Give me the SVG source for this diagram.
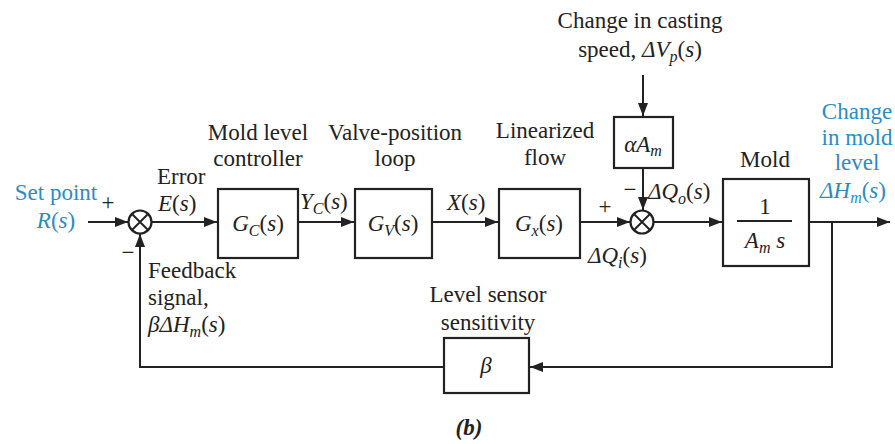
<svg xmlns="http://www.w3.org/2000/svg" width="895" height="444" viewBox="0 0 895 444">
<style>
text{font-family:"Liberation Serif","Times New Roman",serif;font-size:23px;fill:#222}
.b{fill:#2a8cc6}
.i{font-style:italic}
.c{text-anchor:middle}
.sub{font-size:16px}
.box{fill:#fff;stroke:#222;stroke-width:2.2}
.ln{fill:none;stroke:#222;stroke-width:2}
</style>
<defs>
<marker id="ar" markerUnits="userSpaceOnUse" markerWidth="14" markerHeight="12" refX="13" refY="6" orient="auto">
<path d="M0,1 L13,6 L0,11 Z" fill="#222"/>
</marker>
</defs>
<rect width="895" height="444" fill="#fff"/>
<g id="connectors">
<path class="ln" d="M88,222 H128" marker-end="url(#ar)"/>
<path class="ln" d="M151,222 H217" marker-end="url(#ar)"/>
<path class="ln" d="M298,222 H354" marker-end="url(#ar)"/>
<path class="ln" d="M432,222 H498" marker-end="url(#ar)"/>
<path class="ln" d="M580,222 H630" marker-end="url(#ar)"/>
<path class="ln" d="M643,75 V116" marker-end="url(#ar)"/>
<path class="ln" d="M643,168 V210" marker-end="url(#ar)"/>
<path class="ln" d="M653,222 H722" marker-end="url(#ar)"/>
<path class="ln" d="M809,222 H890" marker-end="url(#ar)"/>
<path class="ln" d="M832,222 V367 H530" marker-end="url(#ar)"/>
<path class="ln" d="M444,367 H140 V234" marker-end="url(#ar)"/>
</g>
<g id="sum1">
<circle cx="140" cy="222" r="11.5" fill="#fff" stroke="#222" stroke-width="2.2"/>
<path class="ln" d="M132,214 L148,230 M148,214 L132,230"/>
<text x="108" y="210" class="c">+</text>
<text x="128" y="260" class="c">−</text>
</g>
<g id="sum2">
<circle cx="642" cy="222" r="11.5" fill="#fff" stroke="#222" stroke-width="2.2"/>
<path class="ln" d="M634,214 L650,230 M650,214 L634,230"/>
<text x="605" y="214" class="c">+</text>
<text x="630" y="197" class="c">−</text>
</g>
<g id="input">
<text x="56" y="200" class="c b">Set point</text>
<text x="56" y="228" class="c b"><tspan class="i">R</tspan>(<tspan class="i">s</tspan>)</text>
</g>
<g id="error">
<text x="157" y="184">Error</text>
<text x="158" y="211"><tspan class="i">E</tspan>(<tspan class="i">s</tspan>)</text>
</g>
<g id="gc">
<text x="258" y="140" class="c">Mold level</text>
<text x="258" y="166" class="c">controller</text>
<rect class="box" x="218" y="189" width="80" height="69"/>
<text x="258" y="231" class="c"><tspan class="i">G</tspan><tspan class="i sub" dy="5">C</tspan><tspan dy="-5">(</tspan><tspan class="i">s</tspan>)</text>
</g>
<text x="300" y="209"><tspan class="i">Y</tspan><tspan class="i sub" dy="5">C</tspan><tspan dy="-5">(</tspan><tspan class="i">s</tspan>)</text>
<g id="gv">
<text x="395" y="140" class="c">Valve-position</text>
<text x="395" y="166" class="c">loop</text>
<rect class="box" x="355" y="189" width="77" height="69"/>
<text x="393" y="231" class="c"><tspan class="i">G</tspan><tspan class="i sub" dy="5">V</tspan><tspan dy="-5">(</tspan><tspan class="i">s</tspan>)</text>
</g>
<text x="447" y="210"><tspan class="i">X</tspan>(<tspan class="i">s</tspan>)</text>
<g id="gx">
<text x="545" y="138" class="c">Linearized</text>
<text x="545" y="165" class="c">flow</text>
<rect class="box" x="499" y="189" width="81" height="69"/>
<text x="539" y="231" class="c"><tspan class="i">G</tspan><tspan class="i sub" dy="5">x</tspan><tspan dy="-5">(</tspan><tspan class="i">s</tspan>)</text>
</g>
<text x="588" y="263"><tspan class="i">ΔQ</tspan><tspan class="i sub" dy="5">i</tspan><tspan dy="-5">(</tspan><tspan class="i">s</tspan>)</text>
<g id="disturbance">
<text x="640" y="28" class="c">Change in casting</text>
<text x="640" y="57" class="c">speed, <tspan class="i">ΔV</tspan><tspan class="i sub" dy="5">p</tspan><tspan dy="-5">(</tspan><tspan class="i">s</tspan>)</text>
</g>
<g id="aam">
<rect class="box" x="614" y="117" width="59" height="51"/>
<text x="643" y="152" class="c"><tspan class="i">αA</tspan><tspan class="i sub" dy="4">m</tspan></text>
</g>
<text x="648" y="199"><tspan class="i">ΔQ</tspan><tspan class="i sub" dy="5">o</tspan><tspan dy="-5">(</tspan><tspan class="i">s</tspan>)</text>
<g id="mold">
<text x="765" y="167" class="c">Mold</text>
<rect class="box" x="723" y="179" width="86" height="87"/>
<text x="765" y="214" class="c">1</text>
<line x1="737" y1="221" x2="792" y2="221" stroke="#222" stroke-width="2"/>
<text x="765" y="248" class="c"><tspan class="i">A</tspan><tspan class="i sub" dy="5">m</tspan><tspan dy="-5"> </tspan><tspan class="i">s</tspan></text>
</g>
<g id="output">
<text x="857" y="119" class="c b">Change</text>
<text x="857" y="145" class="c b">in mold</text>
<text x="857" y="170" class="c b">level</text>
<text x="853" y="198" class="c b"><tspan class="i">ΔH</tspan><tspan class="i sub" dy="5">m</tspan><tspan dy="-5">(</tspan><tspan class="i">s</tspan>)</text>
</g>
<g id="sensor">
<text x="488" y="302" class="c">Level sensor</text>
<text x="488" y="330" class="c">sensitivity</text>
<rect class="box" x="444" y="338" width="85" height="55"/>
<text x="486" y="373" class="c i">β</text>
</g>
<g id="feedback">
<text x="148" y="278">Feedback</text>
<text x="148" y="305">signal,</text>
<text x="148" y="332"><tspan class="i">βΔH</tspan><tspan class="i sub" dy="5">m</tspan><tspan dy="-5">(</tspan><tspan class="i">s</tspan>)</text>
</g>
<text x="469" y="435" class="c i" font-weight="bold">(b)</text>
</svg>
